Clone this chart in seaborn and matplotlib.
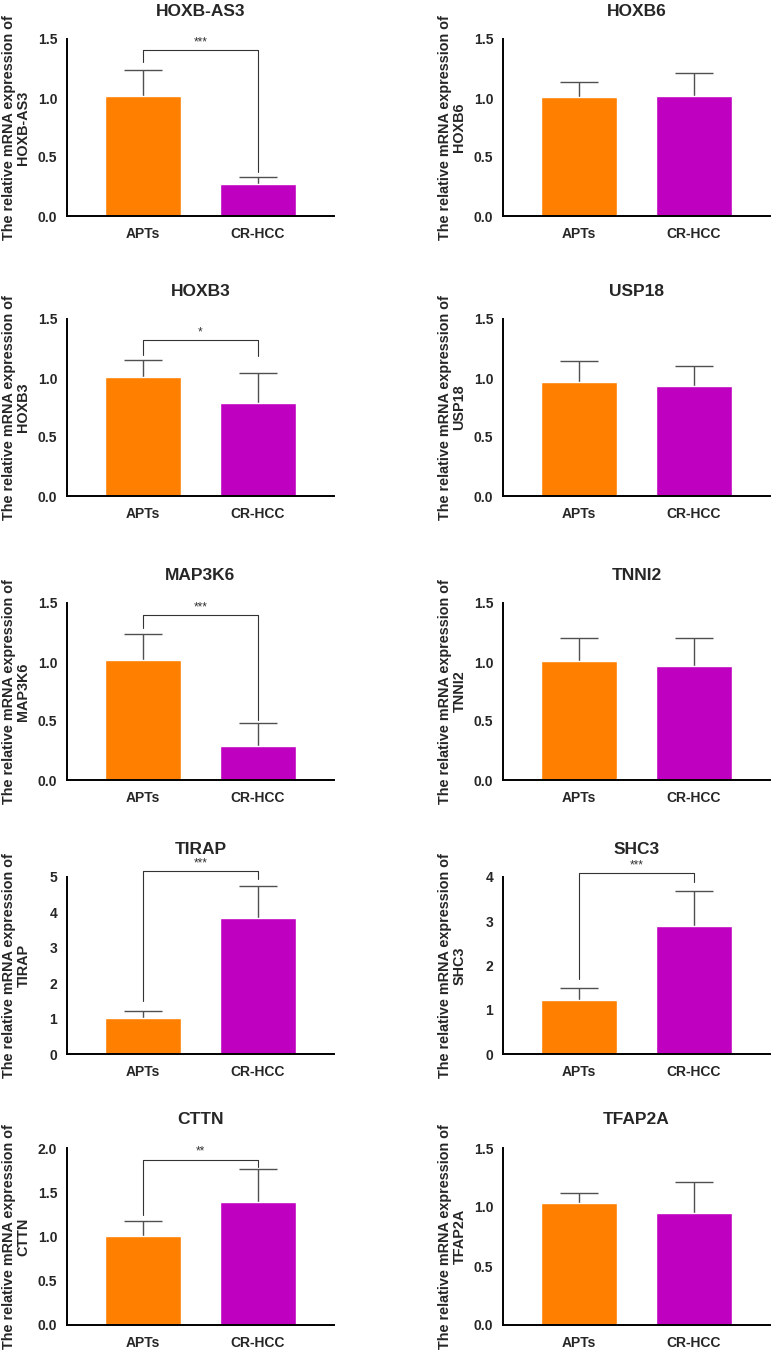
import matplotlib
matplotlib.use("Agg")
import matplotlib.pyplot as plt
import seaborn as sns
import pandas as pd
import numpy as np
from matplotlib.ticker import MultipleLocator, FormatStrFormatter

sns.set_style("white")
plt.rcParams['font.family'] = ['Liberation Sans', 'DejaVu Sans']
plt.rcParams['font.weight'] = 'bold'

# ---- data ----
genes = ["HOXB-AS3", "HOXB6", "HOXB3", "USP18", "MAP3K6",
         "TNNI2", "TIRAP", "SHC3", "CTTN", "TFAP2A"]
groups = ["APTs", "CR-HCC"]
apts_mean = [1.02, 1.01, 1.01, 0.97, 1.02, 1.01, 1.02, 1.22, 1.01, 1.03]
apts_sd = [0.22, 0.125, 0.14, 0.17, 0.22, 0.195, 0.20, 0.28, 0.165, 0.09]
crhcc_mean = [0.27, 1.02, 0.79, 0.935, 0.29, 0.965, 3.83, 2.89, 1.39, 0.947]
crhcc_sd = [0.06, 0.19, 0.255, 0.165, 0.19, 0.235, 0.92, 0.80, 0.37, 0.263]
y_max = [1.5, 1.5, 1.5, 1.5, 1.5, 1.5, 5, 4, 2.0, 1.5]
y_step = [0.5, 0.5, 0.5, 0.5, 0.5, 0.5, 1, 1, 0.5, 0.5]
signif = ["***", "", "*", "", "***", "", "***", "***", "**", ""]

# ---- layout (annotation brackets: top, left leg end, right leg end) ----
brackets = {
    "HOXB-AS3": (1.407, 1.305, 0.37),
    "HOXB3": (1.32, 1.195, 1.186),
    "MAP3K6": (1.398, 1.286, 0.508),
    "TIRAP": (5.18, 1.51, 4.94),
    "SHC3": (4.09, 1.69, 3.89),
    "CTTN": (1.87, 1.24, 1.79),
}
colors = ["#FF8000", "#C000C0"]

W, H = 774, 1353
fig = plt.figure(figsize=(W / 100, H / 100), dpi=100)
row_tops = [39, 319, 603, 877, 1148]
col_lefts = [67, 503]
ax_w, ax_h = 267, 177

for i, gene in enumerate(genes):
    r, c = divmod(i, 2)
    left = col_lefts[c] / W
    bottom = 1 - (row_tops[r] + ax_h) / H
    ax = fig.add_axes([left, bottom, ax_w / W, ax_h / H])

    means = [apts_mean[i], crhcc_mean[i]]
    sds = [apts_sd[i], crhcc_sd[i]]
    df = pd.DataFrame({"group": groups, "value": means})
    sns.barplot(data=df, x="group", y="value", hue="group", palette=colors,
                legend=False, width=0.667, errorbar=None, saturation=1, ax=ax,
                zorder=2)
    eb = ax.errorbar([0, 1], means, yerr=[[0, 0], sds], fmt="none",
                     ecolor="#505050", elinewidth=1.0, capsize=13.5,
                     capthick=1.0, zorder=1.5)
    for cl in eb[1]:
        if np.allclose(cl.get_ydata(), means):
            cl.set_visible(False)

    ax.set_xlim(-0.667, 1.667)
    ax.set_ylim(0, y_max[i])
    ax.yaxis.set_major_locator(MultipleLocator(y_step[i]))
    if y_step[i] < 1:
        ax.yaxis.set_major_formatter(FormatStrFormatter("%.1f"))
    else:
        ax.yaxis.set_major_formatter(FormatStrFormatter("%d"))

    for s in ["top", "right"]:
        ax.spines[s].set_visible(False)
    for s in ["left", "bottom"]:
        ax.spines[s].set_linewidth(1.4)
        ax.spines[s].set_color("black")
    ax.tick_params(axis="both", direction="out", length=4, width=1.4,
                   color="black", labelsize=10, pad=3)
    ax.tick_params(axis="x", pad=4)
    for lab in ax.get_xticklabels() + ax.get_yticklabels():
        lab.set_fontweight("bold")
    ax.set_xlabel("")
    ax.set_ylabel("The relative mRNA expression of\n" + gene,
                  fontsize=10.4, fontweight="bold", linespacing=1.05)
    ax.yaxis.set_label_coords(-0.137, 0.5)
    ax.text(0.5, 1 + 28 / ax_h, gene, transform=ax.transAxes, ha="center",
            va="center", fontsize=12.5, fontweight="bold")

    if signif[i]:
        top, lend, rend = brackets[gene]
        ax.plot([0, 0, 1, 1], [lend, top, top, rend], color="#333333",
                lw=0.8, clip_on=False, zorder=3)
        ax.annotate(signif[i], xy=(0.5, top), xytext=(0, 5.5),
                    textcoords="offset points", ha="center", va="center",
                    fontsize=8.5, color="#333333", fontweight="normal",
                    annotation_clip=False)

fig.savefig("out.png", dpi=100)
